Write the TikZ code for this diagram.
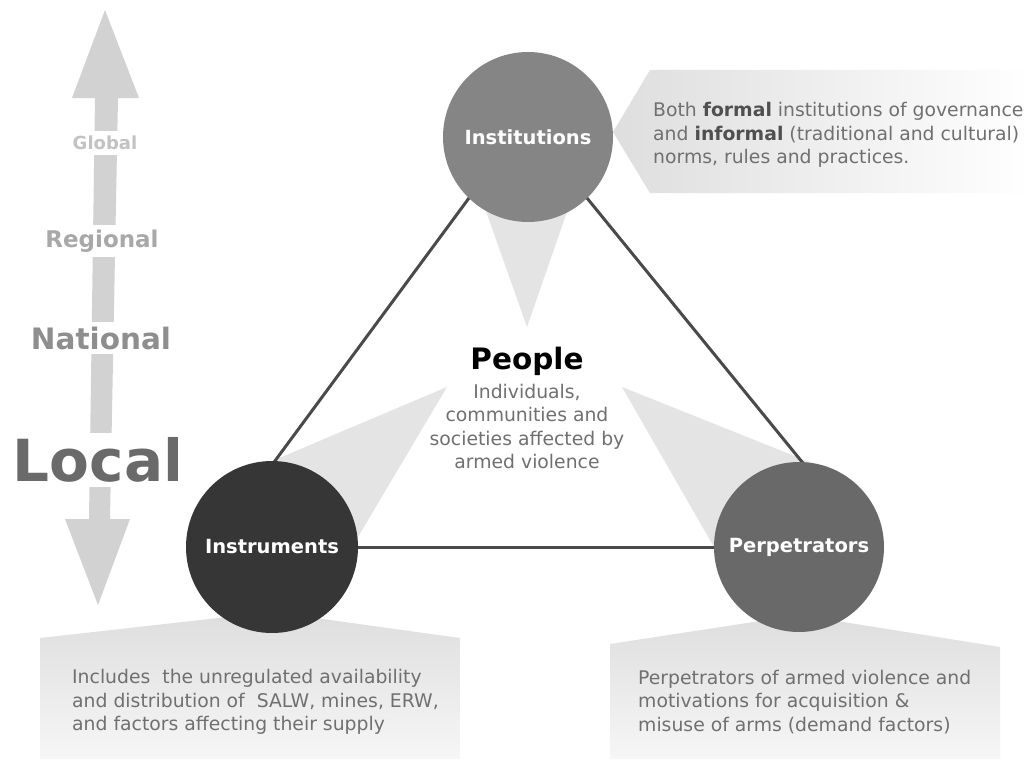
\documentclass[tikz,border=0pt]{standalone}
\usepackage{fontspec}
\setmainfont{DejaVu Sans}
\usetikzlibrary{shapes.geometric}
\definecolor{arrowgray}{HTML}{D2D2D2}
\definecolor{wedgegray}{HTML}{E4E4E4}
\definecolor{calloutgray}{HTML}{DEDEDE}
\definecolor{calloutlow}{HTML}{F6F6F6}
\definecolor{linegray}{HTML}{4A4A4A}
\definecolor{instgray}{HTML}{858585}
\definecolor{instrgray}{HTML}{363636}
\definecolor{perpgray}{HTML}{696969}
\definecolor{bodygray}{HTML}{707070}
\definecolor{boldgray}{HTML}{505050}
\definecolor{globalgray}{HTML}{C2C2C2}
\definecolor{regionalgray}{HTML}{A8A8A8}
\definecolor{nationalgray}{HTML}{8E8E8E}
\definecolor{localgray}{HTML}{6A6A6A}
\pgfdeclarelayer{back}
\pgfdeclarelayer{mid}
\pgfsetlayers{back,mid,main}
\begin{document}
\begin{tikzpicture}[x=1pt,y=-1pt,
  hub/.style={circle, inner sep=0pt, text=white,
    font=\bfseries\fontsize{19.5}{22}\selectfont},
  body/.style={align=left, inner sep=0pt, text=bodygray,
    font=\fontsize{18.8}{23.5}\selectfont},
  level/.style={fill=white, inner xsep=2pt, inner ysep=5pt},
  tri/.style={draw=linegray, line width=3pt, shorten <=-4pt, shorten >=-4pt}]
\useasboundingbox (0,0) rectangle (1031,760);

% circles
\node[hub, fill=instgray, minimum size=170pt] (inst) at (528,137) {Institutions};
\node[hub, fill=instrgray, minimum size=172pt] (instr) at (272,547) {Instruments};
\node[hub, fill=perpgray, minimum size=170pt] (perp) at (799,547) {Perpetrators};

\begin{pgfonlayer}{back}
  \fill[white] (0,0) rectangle (1031,760);
  % scale arrow
  \fill[arrowgray] (105,10) -- (139,98) -- (118,98) -- (110,519) -- (130,519)
    -- (98,605) -- (65,519) -- (89,519) -- (95,98) -- (72,98) -- cycle;
  % callouts
  \shade[left color=calloutgray, right color=white]
    (613,132) -- (650,70) -- (1031,70) -- (1031,193) -- (650,193) -- cycle;
  \shade[top color=calloutgray, bottom color=calloutlow]
    (40,638) -- (272,612) -- (460,638) -- (460,759) -- (40,759) -- cycle;
  \shade[top color=calloutgray, bottom color=calloutlow]
    (610,644) -- (799,615) -- (1000,647) -- (1000,759) -- (610,759) -- cycle;
  % wedges pointing to People
  \fill[wedgegray] (475,180) -- (578,180) -- (527,327) -- cycle;
  \fill[wedgegray] (447,387) -- (258,467) -- (272,547) -- (352,547) -- cycle;
  \fill[wedgegray] (622,387) -- (812,463) -- (799,547) -- (714,547) -- cycle;
\end{pgfonlayer}

\begin{pgfonlayer}{mid}
  \draw[tri] (inst.226) -- (instr.88);
  \draw[tri] (inst.314) -- (perp.88);
  \draw[tri] (instr) -- (perp);
\end{pgfonlayer}

% scale labels
\node[level, text=globalgray, font=\bfseries\fontsize{18}{18}\selectfont] (global) at (105,143) {Global};
\node[level, text=regionalgray, font=\bfseries\fontsize{23}{23}\selectfont] (regional) at (102,241) {Regional};
\node[level, text=nationalgray, font=\bfseries\fontsize{29.5}{29.5}\selectfont] (national) at (101,338) {National};
\node[level, text=localgray, font=\bfseries\fontsize{58}{58}\selectfont] (local) at (98,460) {Local};

% centre text
\node[font=\bfseries\fontsize{29.5}{30}\selectfont, text=black, inner sep=0pt] (people) at (527,361) {People};
\node[body, align=center, anchor=north] (peopledesc) at (527,384)
  {Individuals,\\ communities and\\ societies affected by\\ armed violence};

% descriptions
\node[body, anchor=west] (instdesc) at (653,135)
  {Both \textcolor{boldgray}{\bfseries formal} institutions of governance\\
   and \textcolor{boldgray}{\bfseries informal} (traditional and cultural)\\
   norms, rules and practices.};
\node[body, anchor=west] (instrdesc) at (72,702)
  {Includes\ \ the unregulated availability\\
   and distribution of\ \ SALW, mines, ERW,\\
   and factors affecting their supply};
\node[body, anchor=west] (perpdesc) at (638,702)
  {Perpetrators of armed violence and\\
   motivations for acquisition \&\\
   misuse of arms (demand factors)};
\end{tikzpicture}
\end{document}
